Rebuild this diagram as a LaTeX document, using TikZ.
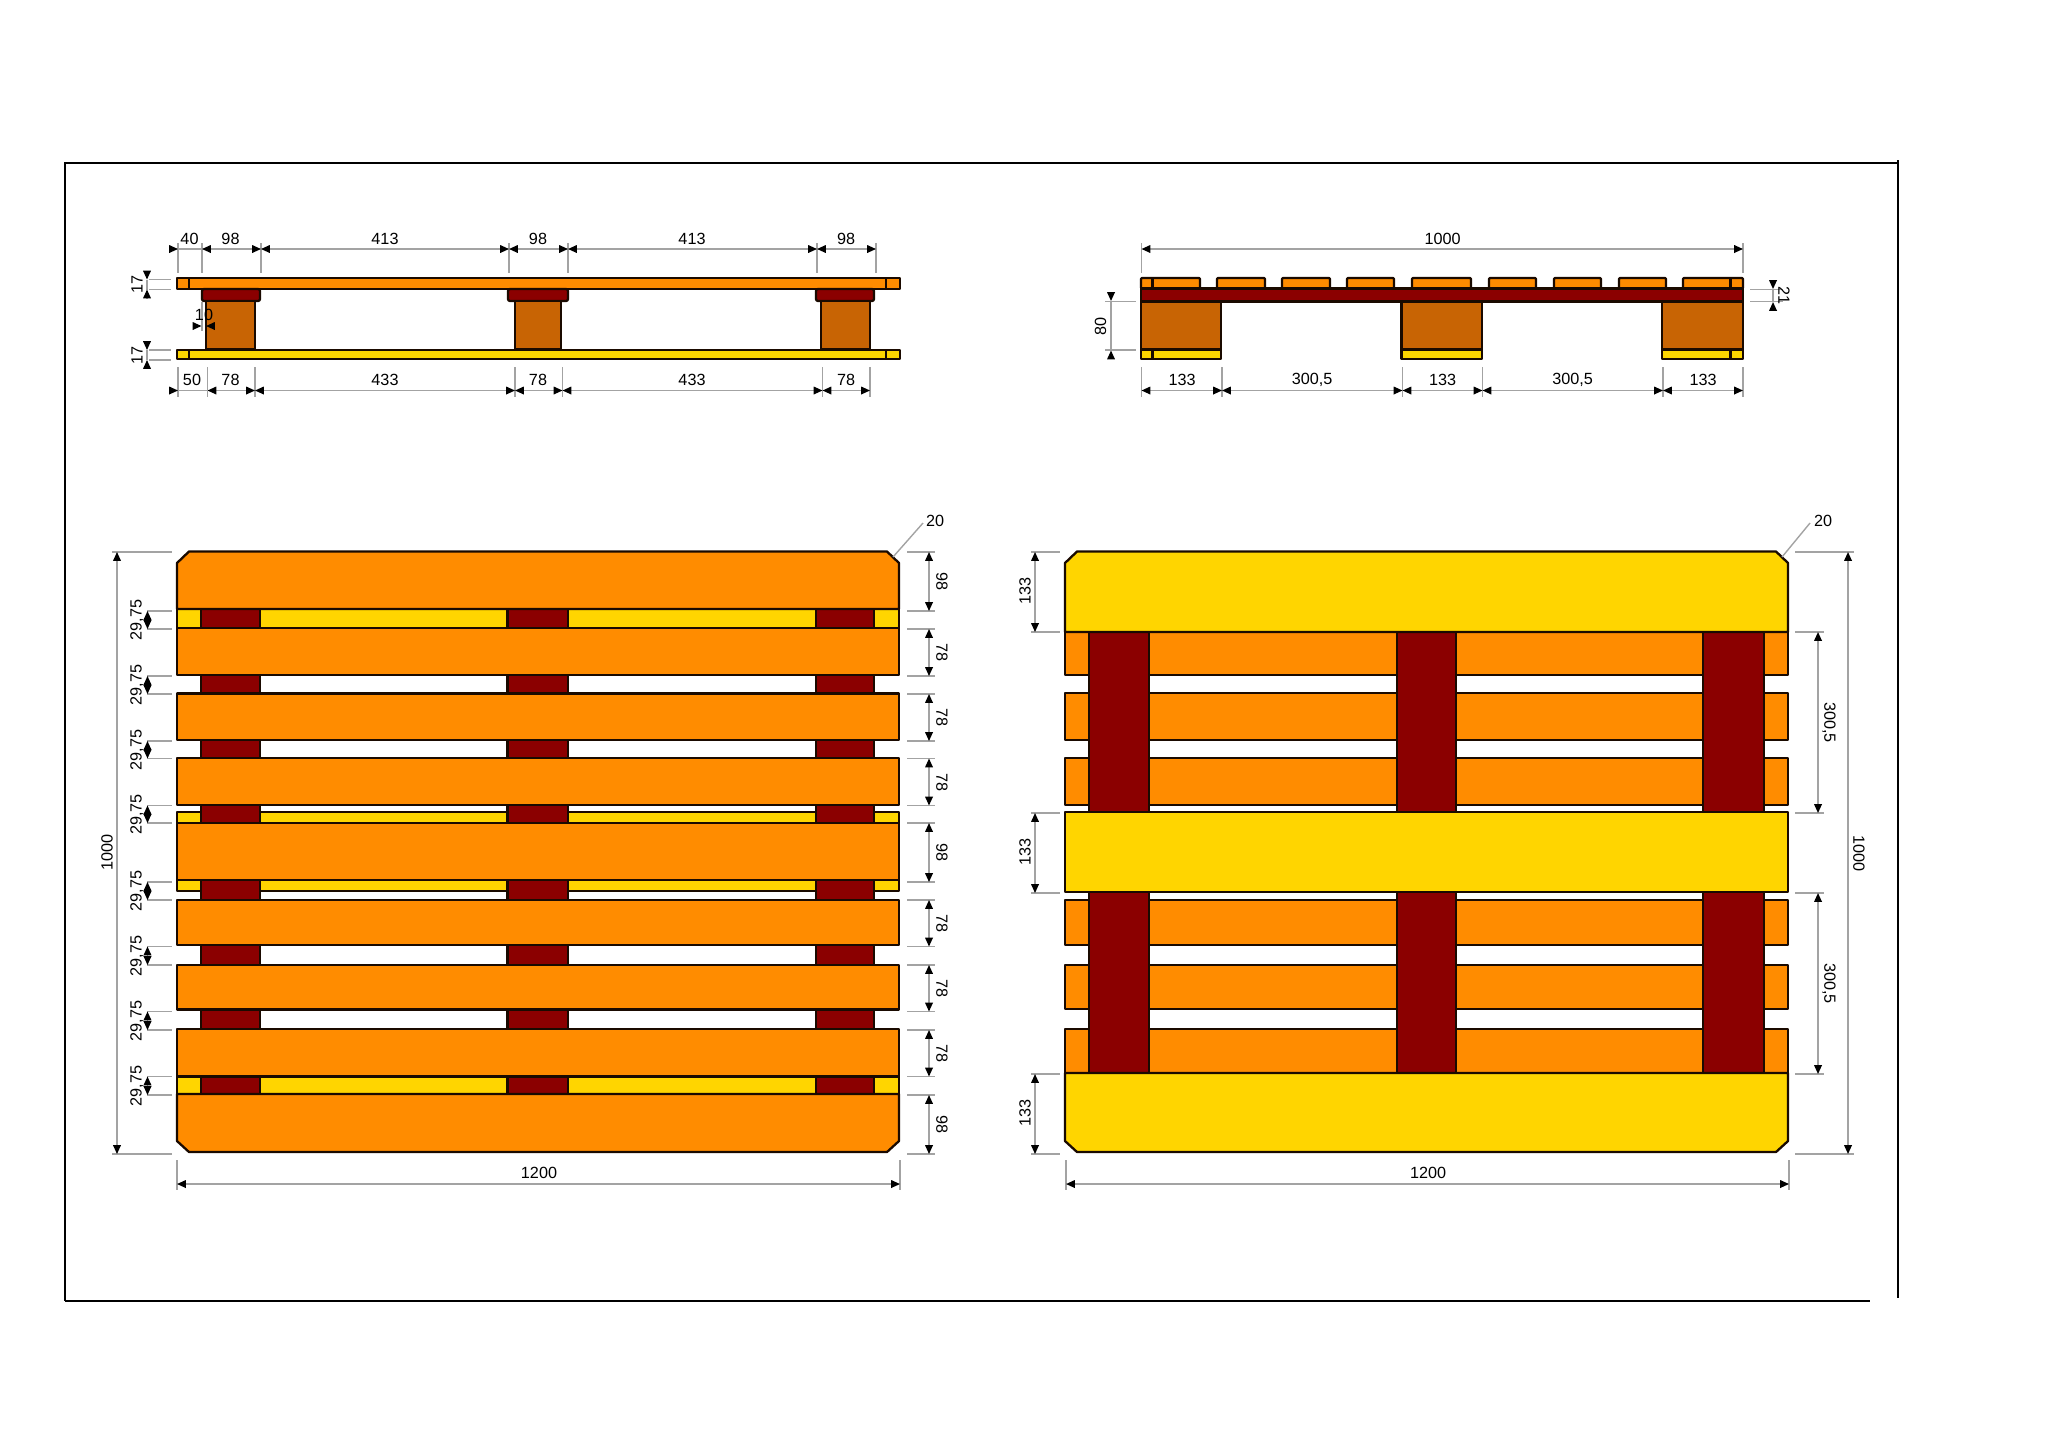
\documentclass[tikz,border=0pt]{standalone}
\usepackage{fontspec}
\setmainfont{Liberation Sans}
\usetikzlibrary{arrows.meta}
\definecolor{plankorange}{HTML}{FF8C00}
\definecolor{plankyellow}{HTML}{FFD500}
\definecolor{plankred}{HTML}{8B0000}
\definecolor{blockbrown}{HTML}{C86404}
\definecolor{plankedge}{HTML}{1A0A00}
\definecolor{dimgray}{HTML}{A3A3A3}
\tikzset{
	plank/.style={draw=plankedge,line width=1.15pt,line join=round},
	orangeplank/.style={plank,fill=plankorange},
	yellowplank/.style={plank,fill=plankyellow},
	redplank/.style={plank,fill=plankred},
	brownblock/.style={plank,fill=blockbrown},
	extline/.style={draw=dimgray,line width=.7pt},
	dimline/.style={draw=dimgray,line width=.7pt,tips=true},
	dimboth/.style={dimline,{Triangle[length=4.4pt,width=3.8pt,black]}-{Triangle[length=4.4pt,width=3.8pt,black]}},
	dimend/.style={dimline,-{Triangle[length=4.4pt,width=3.8pt,black]}},
	dimtext/.style={font=\fontsize{8.1}{9}\selectfont,inner sep=0pt,text=black}
}
\begin{document}
\begin{tikzpicture}[x=0.5pt,y=-0.5pt]
	\useasboundingbox (0,0) rectangle (2048,1447);
	% frame
	\draw[line width=1pt] (65,1300.5)--(65,162.7)--(1898,162.7);
	\draw[line width=1pt] (1898,160)--(1898,1298);
	\draw[line width=1pt] (65,1300.5)--(1870,1300.5);
	% side view, long edge
	\draw[orangeplank] (177,278) rectangle (900,289);
	\draw[yellowplank] (177,350) rectangle (900,359);
	\foreach \x in {189,886} {
		\draw[plank] (\x,278)--(\x,289);
		\draw[plank] (\x,350)--(\x,359);
	}
	\foreach \xa/\xb in {202/260,508/568,816/874} {
		\draw[redplank,rounded corners=1pt] (\xa,289) rectangle (\xb,301);
	}
	\foreach \xa/\xb in {206/255,515/561,821/870} {
		\draw[brownblock] (\xa,301) rectangle (\xb,349.5);
	}
	\foreach \x in {178,202,261,509,568,817,876} {
		\draw[extline] (\x,243)--(\x,273);
	}
	\foreach \xa/\xb/\tx/\lab/\nm in {202/261/230.5/98/a,261/509/385/413/b,509/568/538/98/c,568/817/692/413/d,817/876/846/98/e} {
		\draw[dimboth] (\xa,249)--(\xb,249);
		\node[dimtext] (top\nm) at (\tx,239) {\lab};
	}
	\draw[dimline] (178,249)--(202,249);
	\draw[dimend] (170,249)--(178,249);
	\node[dimtext] (topf) at (189.5,239) {40};
	\foreach \x in {178,207.5,255,515,562.5,822.5,870} {
		\draw[extline] (\x,367)--(\x,397);
	}
	\foreach \xa/\xb/\tx/\lab/\nm in {207.5/255/230.5/78/a,255/515/385/433/b,515/562.5/538/78/c,562.5/822.5/692/433/d,822.5/870/846/78/e} {
		\draw[dimboth] (\xa,390.5)--(\xb,390.5);
		\node[dimtext] (low\nm) at (\tx,380) {\lab};
	}
	\draw[dimline] (178,390.5)--(207.5,390.5);
	\draw[dimend] (170,390.5)--(178,390.5);
	\node[dimtext] (lowf) at (192,380) {50};
	\foreach \ya/\yb/\nm in {279.5/289.5/a,350/360/b} {
		\draw[extline] (149,\ya)--(171,\ya);
		\draw[extline] (149,\yb)--(171,\yb);
		\draw[dimline] (147,\ya)--(147,\yb);
		\draw[dimend] (147,\ya-8)--(147,\ya);
		\draw[dimend] (147,\yb+8)--(147,\yb);
		\node[dimtext,rotate=90] (seventeen\nm) at (137,\ya/2+\yb/2) {17};
	}
	\draw[extline] (202,302)--(202,331);
	\draw[dimend] (193,326)--(201.5,326);
	\draw[dimend] (214,326)--(206,326);
	\node[dimtext] (ten) at (204,315) {10};
	% side view, short edge
	\foreach \xa/\xb in {1141/1200,1217/1265,1282/1330,1347/1394,1412/1471,1489/1536,1554/1601,1619/1666,1683/1743} {
		\draw[orangeplank,rounded corners=.5pt] (\xa,278) rectangle (\xb,288.5);
	}
	\draw[plank] (1152.5,278)--(1152.5,288);
	\draw[plank] (1730.5,278)--(1730.5,288);
	\draw[redplank] (1141,288.5) rectangle (1743,301.5);
	\foreach \xa/\xb in {1141/1221,1401.5/1482,1662/1743} {
		\draw[brownblock] (\xa,301.5) rectangle (\xb,349.5);
		\draw[yellowplank] (\xa,349.5) rectangle (\xb,359);
	}
	\draw[plank] (1152.5,349.5)--(1152.5,359);
	\draw[plank] (1730.5,349.5)--(1730.5,359);
	\foreach \x in {1141.5,1743} {
		\draw[extline] (\x,243)--(\x,273);
	}
	\draw[dimboth] (1141.5,249)--(1743,249);
	\node[dimtext] (widthtop) at (1442.5,239) {1000};
	\foreach \x in {1141.5,1222,1402.5,1482.5,1663,1743} {
		\draw[extline] (\x,367)--(\x,397);
	}
	\foreach \xa/\xb/\tx/\lab/\nm in {1141.5/1222/1182/133/a,1222/1402.5/1312/{300,5}/b,1402.5/1482.5/1442.5/133/c,1482.5/1663/1572.5/{300,5}/d,1663/1743/1703/133/e} {
		\draw[dimboth] (\xa,390.5)--(\xb,390.5);
		\node[dimtext] (short\nm) at (\tx,380) {\lab};
	}
	\draw[extline] (1105,301.5)--(1136,301.5);
	\draw[extline] (1105,350)--(1136,350);
	\draw[dimline] (1111,301.5)--(1111,350);
	\draw[dimend] (1111,293.5)--(1111,301);
	\draw[dimend] (1111,357.5)--(1111,350.5);
	\node[dimtext,rotate=90] (eighty) at (1100.5,326) {80};
	\draw[extline] (1750,289.5)--(1783,289.5);
	\draw[extline] (1750,301.5)--(1783,301.5);
	\draw[dimline] (1773,289.5)--(1773,301.5);
	\draw[dimend] (1773,281.5)--(1773,289);
	\draw[dimend] (1773,309)--(1773,302);
	\node[dimtext,rotate=270] (twentyone) at (1784,295.5) {21};
	% top view
	\foreach \ya/\yb in {609/628,812/891,1077/1094} {
		\draw[yellowplank] (177,\ya) rectangle (899,\yb);
	}
	\foreach \xa/\xb in {201/260,507.5/568,816/874} {
		\draw[redplank] (\xa,609) rectangle (\xb,1094);
	}
	\draw[orangeplank] (177,563)--(189,551.5)--(887,551.5)--(899,563)--(899,609)--(177,609)--cycle;
	\foreach \ya/\yb in {628/675,693.5/740,758/805,823/880,900/945,965/1009.5,1029/1076.5} {
		\draw[orangeplank] (177,\ya) rectangle (899,\yb);
	}
	\draw[orangeplank] (177,1094)--(899,1094)--(899,1141)--(887,1152)--(189,1152)--(177,1141)--cycle;
	\foreach \y in {552,1154} {
		\draw[extline] (112,\y)--(172,\y);
	}
	\draw[dimboth] (117,552)--(117,1154);
	\node[dimtext,rotate=90] (heightl) at (107,852) {1000};
	\foreach \ya/\yb/\nm in {611/629/a,676/694/b,741/758.5/c,805.5/823/d,882/900/e,946.5/965/f,1011.5/1030/g,1076.5/1095/h} {
		\draw[extline] (147,\ya)--(172,\ya);
		\draw[extline] (147,\yb)--(172,\yb);
		\draw[dimboth] (147.5,\ya)--(147.5,\yb);
		\node[dimtext,rotate=90] (gap\nm) at (137,\ya/2+\yb/2) {29,75};
	}
	\foreach \ya/\yb/\lab/\nm in {552/611/98/a,629/676/78/b,694/741/78/c,758.5/805.5/78/d,823/882/98/e,900/946.5/78/f,965/1011.5/78/g,1030/1076.5/78/h,1095/1154/98/i} {
		\draw[extline] (907,\ya)--(935,\ya);
		\draw[extline] (907,\yb)--(935,\yb);
		\draw[dimboth] (929,\ya)--(929,\yb);
		\node[dimtext,rotate=270] (board\nm) at (942,\ya/2+\yb/2) {\lab};
	}
	\draw[extline] (893,557)--(923,523);
	\node[dimtext] (chamferl) at (935,521) {20};
	\foreach \x in {177,900} {
		\draw[extline] (\x,1160)--(\x,1190);
	}
	\draw[dimboth] (177,1184)--(900,1184);
	\node[dimtext] (lengthl) at (539,1173) {1200};
	% bottom view
	\foreach \ya/\yb in {632/675,693/740,758/805,900/945,965/1009,1029/1073} {
		\draw[orangeplank] (1065,\ya) rectangle (1788,\yb);
	}
	\foreach \xa/\xb in {1089/1149,1397/1456,1703/1764} {
		\draw[redplank] (\xa,632) rectangle (\xb,812);
		\draw[redplank] (\xa,891) rectangle (\xb,1073);
	}
	\draw[yellowplank] (1065,563)--(1077,551.5)--(1776,551.5)--(1788,563)--(1788,632)--(1065,632)--cycle;
	\draw[yellowplank] (1065,812) rectangle (1788,892);
	\draw[yellowplank] (1065,1073)--(1788,1073)--(1788,1141)--(1776,1152)--(1077,1152)--(1065,1141)--cycle;
	\foreach \ya/\yb/\tx/\nm in {552/632/591/a,813/893/852/b,1074/1154/1113/c} {
		\draw[extline] (1031,\ya)--(1060,\ya);
		\draw[extline] (1031,\yb)--(1060,\yb);
		\draw[dimboth] (1035,\ya)--(1035,\yb);
		\node[dimtext,rotate=90] (deck\nm) at (1025,\tx) {133};
	}
	\foreach \ya/\yb/\nm in {632/813/a,893/1074/b} {
		\draw[extline] (1795,\ya)--(1824,\ya);
		\draw[extline] (1795,\yb)--(1824,\yb);
		\draw[dimboth] (1818,\ya)--(1818,\yb);
		\node[dimtext,rotate=270] (span\nm) at (1829,\ya/2+\yb/2) {300,5};
	}
	\foreach \y in {552,1154} {
		\draw[extline] (1795,\y)--(1854,\y);
	}
	\draw[dimboth] (1848,552)--(1848,1154);
	\node[dimtext,rotate=270] (heightr) at (1859,853) {1000};
	\draw[extline] (1782,557)--(1810,523);
	\node[dimtext] (chamferr) at (1823,521) {20};
	\foreach \x in {1066,1789} {
		\draw[extline] (\x,1160)--(\x,1190);
	}
	\draw[dimboth] (1066,1184)--(1789,1184);
	\node[dimtext] (lengthr) at (1428,1173) {1200};
\end{tikzpicture}
\end{document}
